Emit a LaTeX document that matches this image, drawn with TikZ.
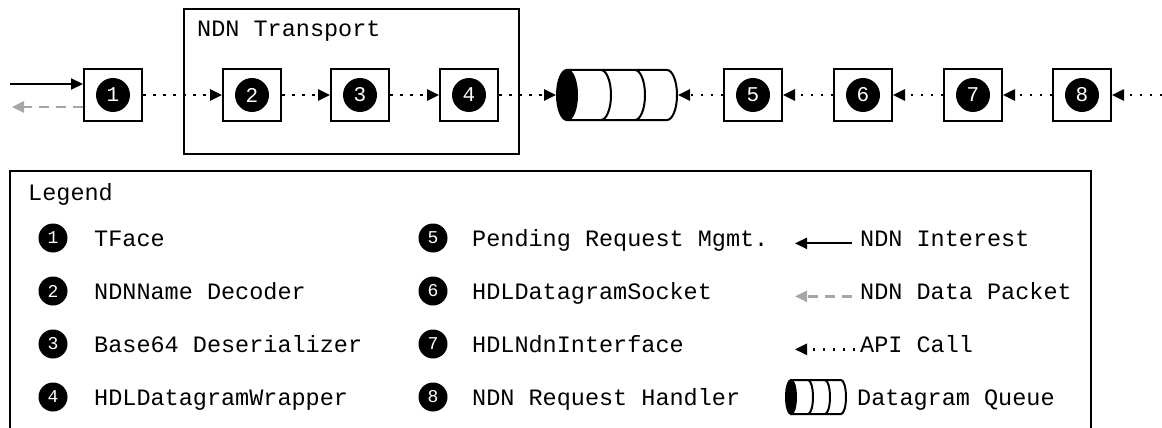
\documentclass[tikz,border=0pt]{standalone}
\usepackage{fontspec}
\setmainfont{Liberation Mono}
\usetikzlibrary{arrows.meta,positioning}
\definecolor{datagray}{HTML}{A6A6A6}
\tikzset{
 box/.style={draw,line width=2pt,minimum width=58pt,minimum height=52pt,inner sep=0pt},
 frame/.style={draw,line width=2pt,inner sep=0pt},
 num/.style={circle,fill=black,text=white,minimum size=34pt,inner sep=0pt,font=\fontsize{21}{21}\selectfont},
 keynum/.style={num,minimum size=29pt,font=\fontsize{18}{18}\selectfont},
 txt/.style={font=\fontsize{23.5}{28}\selectfont,inner sep=0pt},
 interest/.style={-{Triangle[length=12pt,width=11pt]},line width=2pt},
 data/.style={-{Triangle[length=12pt,width=11pt]},line width=2.5pt,draw=datagray,dash pattern=on 10pt off 7pt},
 api/.style={-{Triangle[length=12pt,width=11pt]},line width=2.5pt,dash pattern=on 2.5pt off 7.5pt},
 queue/.pic={
  \draw[line width=2pt,fill=white] (0,-25) -- (100,-25) arc(-90:90:10 and 25) -- (0,25) -- cycle;
  \draw[line width=2pt] (34,-25) arc(-90:90:10 and 25);
  \draw[line width=2pt] (68,-25) arc(-90:90:10 and 25);
  \draw[line width=2pt,fill=black] (0,0) ellipse (10 and 25);
  \coordinate (-in) at (-11,0);
  \coordinate (-out) at (111,0);
 }
}

\begin{document}
\begin{tikzpicture}[x=1pt,y=-1pt]
\useasboundingbox (0,0) rectangle (1162,428);
% transport box
\node[frame,minimum width=335pt,minimum height=145pt,anchor=north west] (transport) at (183,8) {};
\node[txt,anchor=base west] (transporttitle) at ([xshift=14pt,yshift=-29pt]transport.north west) {NDN Transport};
% pipeline
\node[box] (t1) at (113,95) {};
\node[box,right=79pt of t1] (t2) {};
\node[box,right=48pt of t2] (t3) {};
\node[box,right=49pt of t3] (t4) {};
\pic (q) at (567,95) {queue};
\node[box,right=45pt of q-out] (t5) {};
\node[box,right=50pt of t5] (t6) {};
\node[box,right=50pt of t6] (t7) {};
\node[box,right=49pt of t7] (t8) {};
\node[num] (n1) at (t1) {1};
\node[num] (n2) at (t2) {2};
\node[num] (n3) at (t3) {3};
\node[num] (n4) at (t4) {4};
\node[num] (n5) at (t5) {5};
\node[num] (n6) at (t6) {6};
\node[num] (n7) at (t7) {7};
\node[num] (n8) at (t8) {8};
\coordinate (src) at (10,84);
\coordinate (sink) at (12,107);
\coordinate (app) at (1162,95);
\draw[interest] (src) -- (src -| t1.west);
\draw[data] (sink -| t1.west) -- (sink);
\draw[api] (t1) -- (t2);
\draw[api] (t2) -- (t3);
\draw[api] (t3) -- (t4);
\draw[api] (t4) -- (q-in);
\draw[api] (t5) -- (q-out);
\draw[api] (t6) -- (t5);
\draw[api] (t7) -- (t6);
\draw[api] (t8) -- (t7);
\draw[api] (app) -- (t8);
% legend
\node[frame,minimum width=1081pt,minimum height=300pt,anchor=north west] (legend) at (9,170) {};
\node[txt,anchor=base west] (legendtitle) at (28,200) {Legend};
\node[keynum] (c1) at (53,238) {1};
\node[keynum] (c2) at (53,291) {2};
\node[keynum] (c3) at (53,344) {3};
\node[keynum] (c4) at (53,397) {4};
\node[txt,anchor=base west] (l1) at (94,246) {TFace};
\node[txt,anchor=base west] (l2) at (94,299) {NDNName Decoder};
\node[txt,anchor=base west] (l3) at (94,352) {Base64 Deserializer};
\node[txt,anchor=base west] (l4) at (94,405) {HDLDatagramWrapper};
\node[keynum] (c5) at (433,238) {5};
\node[keynum] (c6) at (433,291) {6};
\node[keynum] (c7) at (433,344) {7};
\node[keynum] (c8) at (433,397) {8};
\node[txt,anchor=base west] (l5) at (472,246) {Pending Request Mgmt.};
\node[txt,anchor=base west] (l6) at (472,299) {HDLDatagramSocket};
\node[txt,anchor=base west] (l7) at (472,352) {HDLNdnInterface};
\node[txt,anchor=base west] (l8) at (472,405) {NDN Request Handler};
\node[txt,anchor=base west] (k1) at (860,246) {NDN Interest};
\node[txt,anchor=base west] (k2) at (860,299) {NDN Data Packet};
\node[txt,anchor=base west] (k3) at (860,352) {API Call};
\node[txt,anchor=base west] (k4) at (857,405) {Datagram Queue};
\draw[interest] ([xshift=-8pt]k1.mid west) -- ([xshift=-65pt]k1.mid west);
\draw[data] ([xshift=-8pt]k2.mid west) -- ([xshift=-65pt]k2.mid west);
\draw[api] ([xshift=-5pt]k3.mid west) -- ([xshift=-65pt]k3.mid west);
\pic[xscale=0.5,yscale=0.68] (kq) at (791,397) {queue};
\end{tikzpicture}
\end{document}
